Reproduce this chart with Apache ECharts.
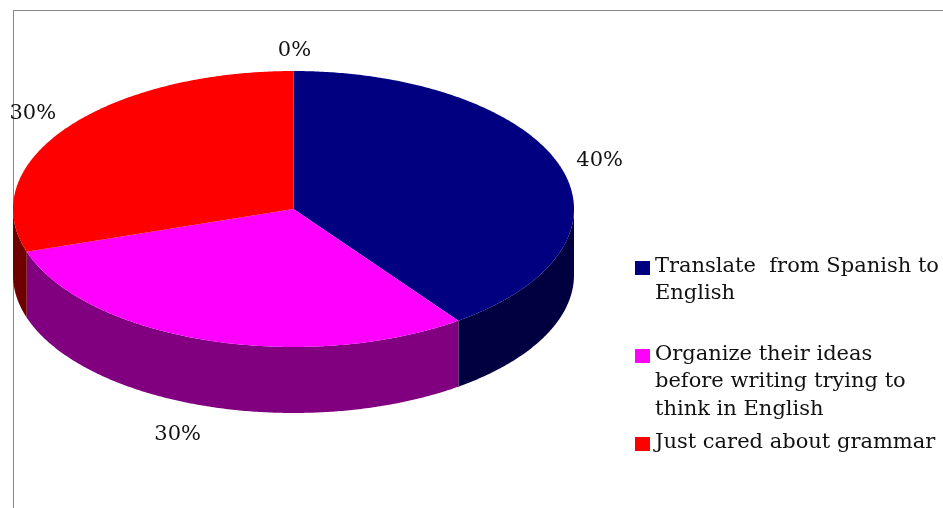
<!DOCTYPE html>
<html>
<head>
<meta charset="utf-8">
<script src="https://cdn.jsdelivr.net/npm/echarts@6/dist/echarts.min.js"></script>
<style>html,body{margin:0;padding:0;background:#fff}#container1{width:943px;height:508px}</style>
</head>
<body>
<div id="container1"></div>
<script>
// categories and values; the last one has no legend entry, only its 0% label
var categories = ['Translate  from Spanish to\nEnglish', 'Organize their ideas\nbefore writing trying to\nthink in English', 'Just cared about grammar', ''];
var values = [40, 30, 30, 0];

var topColors = ['#000080', '#ff00ff', '#ff0000', '#000080'];
var sideColors = ['#000040', '#800080', '#6e0000', '#000040'];

// pie geometry
var cx = 293.5, cy = 209, rx = 280.5, ry = 138, depth = 66;
var labelRadius = 1.14;
var labelNudge = [[2, 0], [-17, 10], [-2, -3], [1, -1]];
var legendTop = [265, 353, 441];
var legendLineHeight = 27.3;
var fontFamily = '"DejaVu Serif", serif';

var total = values.reduce(function (a, b) { return a + b; }, 0);

function rim(deg, down) {
	var r = deg * Math.PI / 180;
	return [cx + rx * Math.sin(r), cy - ry * Math.cos(r) + (down || 0)];
}

function arc(from, to, down) {
	var pts = [];
	var n = Math.max(1, Math.ceil(Math.abs(to - from) * 2));
	for (var i = 0; i <= n; i++) {
		pts.push(rim(from + (to - from) * i / n, down));
	}
	return pts;
}

function renderSlice(params, api) {
	var i = params.dataIndex;
	var start = 0;
	for (var k = 0; k < i; k++) start += values[k];
	start = start / total * 360;
	var end = start + api.value(0) / total * 360;
	var mid = (start + end) / 2;
	var children = [];

	// only the front half of the wall shows
	var a = Math.max(start, 90), b = Math.min(end, 270);
	if (b > a) {
		children.push({
			type: 'polygon',
			z2: 1,
			shape: { points: arc(a, b, 0).concat(arc(b, a, depth)) },
			style: { fill: sideColors[i] }
		});
	}
	if (end > start) {
		children.push({
			type: 'polygon',
			z2: 2,
			shape: { points: [[cx, cy]].concat(arc(start, end, 0)) },
			style: { fill: topColors[i] }
		});
	}

	// labels in the lower half sit below the wall
	var r = mid * Math.PI / 180;
	var lx = cx + rx * labelRadius * Math.sin(r) + labelNudge[i][0];
	var ly = cy - ry * labelRadius * Math.cos(r) + labelNudge[i][1] + (Math.cos(r) < 0 ? depth : 0);
	children.push({
		type: 'text',
		z2: 3,
		style: {
			x: lx,
			y: ly,
			text: Math.round(api.value(0) / total * 100) + '%',
			font: '21px ' + fontFamily,
			fill: '#111',
			align: 'center',
			verticalAlign: 'middle'
		}
	});
	return { type: 'group', children: children };
}

var legendGraphics = [];
categories.forEach(function (name, i) {
	if (!name) return;
	legendGraphics.push({
		type: 'rect',
		shape: { x: 635, y: legendTop[i] - 4, width: 15, height: 14 },
		style: { fill: topColors[i] }
	});
	legendGraphics.push({
		type: 'text',
		style: {
			x: 655,
			y: legendTop[i] - 12,
			text: name,
			font: '21px ' + fontFamily,
			lineHeight: legendLineHeight,
			fill: '#111'
		}
	});
});

var myChart = echarts.init(document.getElementById('container1'));
var option = {
	backgroundColor: '#fff',
	animation: false,
	graphic: [
		{ type: 'line', shape: { x1: 13.5, y1: 10, x2: 13.5, y2: 508 }, style: { stroke: '#868686', lineWidth: 1 } },
		{ type: 'line', shape: { x1: 13, y1: 10.5, x2: 943, y2: 10.5 }, style: { stroke: '#868686', lineWidth: 1 } }
	].concat(legendGraphics),
	series: [{
		type: 'custom',
		coordinateSystem: 'none',
		renderItem: renderSlice,
		data: values.map(function (v) { return [v]; }),
		z: 5
	}]
};
myChart.setOption(option, true);
</script>
</body>
</html>
